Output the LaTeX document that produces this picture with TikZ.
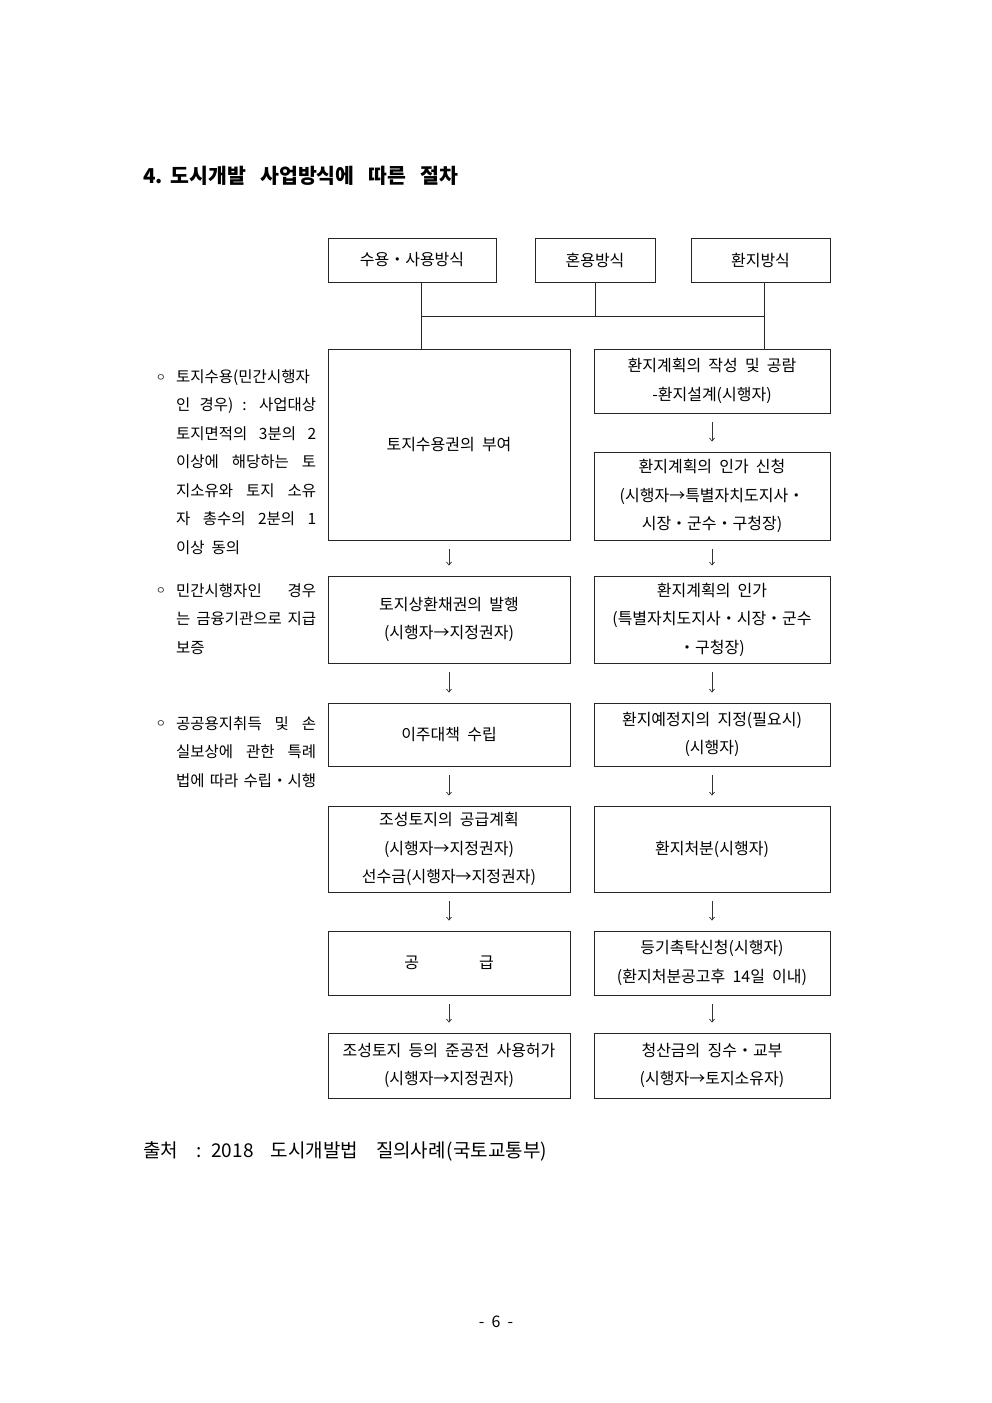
\documentclass[tikz,border=0pt]{standalone}
\usepackage{fontspec}
\setmainfont[WordSpace=2]{Noto Sans CJK KR}
\usetikzlibrary{arrows.meta,calc}
\begin{document}
\begin{tikzpicture}[x=1pt,y=-1pt,
  box/.style={draw=black!85, line width=0.9pt, inner sep=0pt, align=center,
    font=\fontsize{16}{28.5}\selectfont, text=black},
  lbox/.style={box, minimum width=242pt},
  rbox/.style={box, minimum width=236pt},
  arr/.style={draw=black!80, line width=0.7pt, -{Straight Barb[length=3pt,width=5pt]},
    shorten <=9pt, shorten >=10pt},
  link/.style={draw=black!85, line width=0.9pt},
  note/.style={anchor=west, inner sep=0pt, align=left, text=black,
    font=\fontsize{15.5}{28.5}\selectfont},
  bul/.style={inner sep=0pt, text=black!80, font=\fontsize{11}{11}\selectfont},
  plain/.style={anchor=west, inner sep=0pt, text=black}]
\useasboundingbox (0,0) rectangle (992,1403);

% title
\node[plain, font=\fontsize{20.5}{24}\selectfont\bfseries] (title) at (143,176)
  {4.\hspace{8pt}도시개발\hspace{14pt}사업방식에\hspace{14pt}따른\hspace{14pt}절차};

% top boxes
\node[box, minimum width=168pt, minimum height=44pt] (T1) at (412,260) {수용・사용방식};
\node[box, minimum width=120pt, minimum height=44pt] (T2) at (595,260) {혼용방식};
\node[box, minimum width=139pt, minimum height=44pt] (T3) at (760.5,260) {환지방식};

% left column
\node[lbox, minimum height=191pt] (L1) at (449,444.5) {토지수용권의 부여};
\node[lbox, minimum height=87pt] (L2) at (449,619.5) {토지상환채권의 발행\\(시행자→지정권자)};
\node[lbox, minimum height=63pt] (L3) at (449,734.5) {이주대책 수립};
\node[lbox, minimum height=86pt] (L4) at (449,849) {조성토지의 공급계획\\(시행자→지정권자)\\선수금(시행자→지정권자)};
\node[lbox, minimum height=64pt] (L5) at (449,963) {공\hspace{60pt}급};
\node[lbox, minimum height=65pt] (L6) at (449,1065.5) {조성토지 등의 준공전 사용허가\\(시행자→지정권자)};

% right column
\node[rbox, minimum height=64pt] (R1) at (712,381) {환지계획의 작성 및 공람\\-환지설계(시행자)};
\node[rbox, minimum height=88pt] (R2) at (712,496) {환지계획의 인가 신청\\(시행자→특별자치도지사・\\시장・군수・구청장)};
\node[rbox, minimum height=87pt] (R3) at (712,619.5) {환지계획의 인가\\(특별자치도지사・시장・군수\\・구청장)};
\node[rbox, minimum height=63pt] (R4) at (712,734.5) {환지예정지의 지정(필요시)\\(시행자)};
\node[rbox, minimum height=86pt] (R5) at (712,849) {환지처분(시행자)};
\node[rbox, minimum height=64pt] (R6) at (712,963) {등기촉탁신청(시행자)\\(환지처분공고후 14일 이내)};
\node[rbox, minimum height=65pt] (R7) at (712,1065.5) {청산금의 징수・교부\\(시행자→토지소유자)};

% top connectors
\coordinate (j1) at (421,316);
\coordinate (j3) at (764,316);
\draw[link] (T1.south -| j1) -- (j1) -- (j3) -- (T3.south -| j3);
\draw[link] (T2.south) -- (T2.south |- j1);
\draw[link] (j1) -- (L1.north -| j1);
\draw[link] (j3) -- (R1.north -| j3);

% arrows
\draw[arr] (L1) -- (L2);
\draw[arr] (L2) -- (L3);
\draw[arr] (L3) -- (L4);
\draw[arr] (L4) -- (L5);
\draw[arr] (L5) -- (L6);
\draw[arr] (R1) -- (R2);
\draw[arr] (R2) -- (R3);
\draw[arr] (R3) -- (R4);
\draw[arr] (R4) -- (R5);
\draw[arr] (R5) -- (R6);
\draw[arr] (R6) -- (R7);

% side notes
\node[bul] (b1) at (161,378) {ㅇ};
\node[note] (n1) at (176,462) {%
\makebox[140pt][s]{토지수용(민간시행자}\\
\makebox[140pt][s]{인 경우) : 사업대상}\\
\makebox[140pt][s]{토지면적의 3분의 2}\\
\makebox[140pt][s]{이상에 해당하는 토}\\
\makebox[140pt][s]{지소유와 토지 소유}\\
\makebox[140pt][s]{자 총수의 2분의 1}\\
이상 동의};
\node[bul] (b2) at (161,591) {ㅇ};
\node[note] (n2) at (176,619) {%
\makebox[140pt][s]{민간시행자인 경우}\\
\makebox[140pt][s]{는 금융기관으로 지급}\\
보증};
\node[bul] (b3) at (161,724) {ㅇ};
\node[note] (n3) at (176,752) {%
\makebox[140pt][s]{공공용지취득 및 손}\\
\makebox[140pt][s]{실보상에 관한 특례}\\
\makebox[140pt][s]{법에 따라 수립・시행}};

% source and page number
\node[plain, font=\fontsize{19}{22}\selectfont] (src) at (143,1151)
  {출처\hspace{18pt}:\hspace{10pt}2018\hspace{17pt}도시개발법\hspace{18pt}질의사례\hspace{1pt}(국토교통부)};
\node[inner sep=0pt, text=black, font=\fontsize{16}{20}\selectfont] (page) at (496,1322) {- 6 -};
\end{tikzpicture}
\end{document}
